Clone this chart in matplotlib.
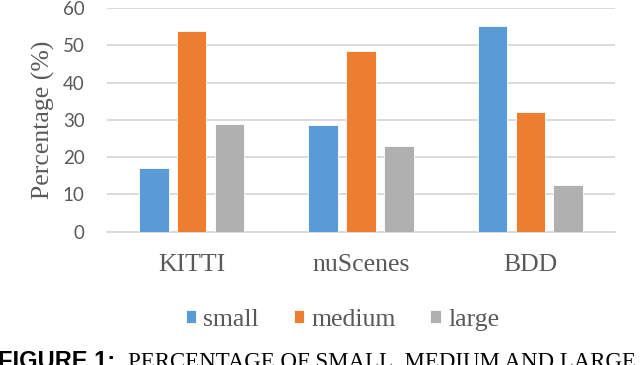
import matplotlib
matplotlib.use("Agg")
import matplotlib.pyplot as plt
import numpy as np

# data
datasets = ["KITTI", "nuScenes", "BDD"]
sizes = ["small", "medium", "large"]
small = [17.0, 28.5, 55.2]
medium = [53.9, 48.6, 32.0]
large = [28.8, 22.9, 12.6]
yticks = [0, 10, 20, 30, 40, 50, 60]

colors = ["#5B9BD5", "#ED7D31", "#B0B0B0"]
text_gray = "#595959"
grid_gray = "#D9D9D9"

fig = plt.figure(figsize=(6.4, 3.65), dpi=100)
ax = fig.add_axes([107 / 640, 1 - 231.7 / 365, 508 / 640, 223.7 / 365])

x = np.arange(len(datasets))
step = 0.223
width = 0.175
bars = []
for i, (vals, c) in enumerate(zip([small, medium, large], colors)):
    b = ax.bar(x + (i - 1) * step, vals, width, color=c, edgecolor="white",
               linewidth=0.6, zorder=3, label=sizes[i])
    bars.append(b)

ax.set_xlim(-0.5, len(datasets) - 0.5)
ax.set_ylim(0, 60)
ax.set_yticks(yticks)
ax.yaxis.grid(True, color=grid_gray, linewidth=1.3, zorder=0)
ax.set_axisbelow(True)
for s in ["top", "right", "left"]:
    ax.spines[s].set_visible(False)
ax.spines["bottom"].set_color(grid_gray)
ax.spines["bottom"].set_linewidth(1.3)
ax.tick_params(axis="both", length=0)
ax.tick_params(axis="y", pad=16, labelcolor=text_gray)
ax.tick_params(axis="x", pad=16, labelcolor=text_gray)

for lab in ax.get_yticklabels():
    lab.set_fontfamily("Lato")
    lab.set_fontsize(13.5)

ax.set_xticks(x)
ax.set_xticklabels(datasets, fontfamily="Liberation Serif", fontsize=18.5)

ax.set_ylabel("Percentage (%)", fontfamily="Liberation Serif", fontsize=18.5,
              color=text_gray)
ax.yaxis.set_label_coords(-0.102, 0.5)

fig.legend(handles=bars, labels=sizes, loc="center",
           bbox_to_anchor=(342.5 / 640, 1 - 320 / 365), ncol=3, frameon=False,
           prop={"family": "Liberation Serif", "size": 18.5},
           labelcolor=text_gray, handlelength=0.42, handleheight=0.42,
           handletextpad=0.27, columnspacing=1.35, borderpad=0)

# caption, cut off at the bottom like the reference
fig.text(-0.003, -0.008, "FIGURE 1:", fontfamily="Liberation Sans",
         fontweight="bold", fontsize=17, color="black", va="baseline")
fig.text(128 / 640, -0.008, "PERCENTAGE OF SMALL, MEDIUM AND LARGE",
         fontfamily="Liberation Serif", fontsize=16.5, color="black",
         va="baseline")

fig.savefig("out.png", dpi=100)
